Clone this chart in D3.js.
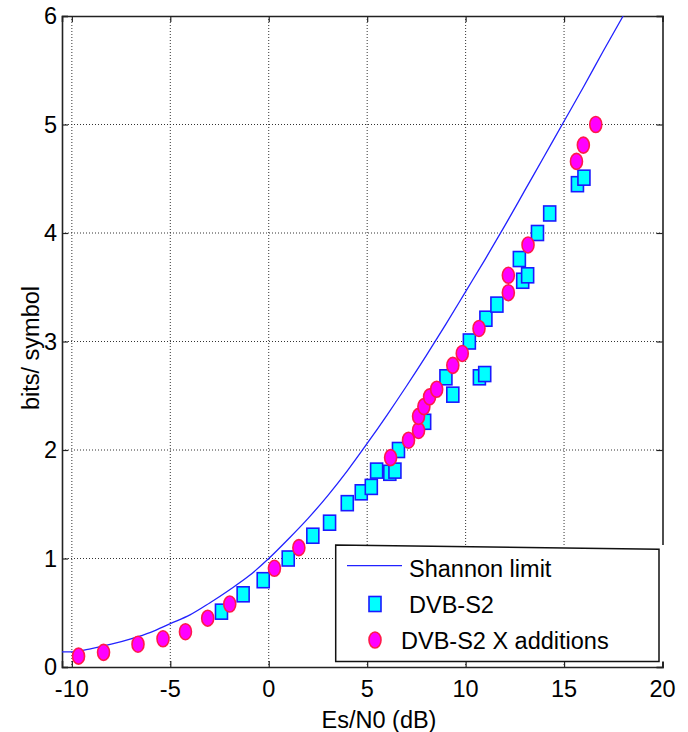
<!DOCTYPE html>
<html>
<head>
<meta charset="utf-8">
<script src="https://cdn.jsdelivr.net/npm/d3@7"></script>
<style>
  body { margin: 0; background: #fff; }
  svg { display: block; font-family: "Liberation Sans", Arial, sans-serif; }
</style>
</head>
<body>
<svg id="chart" width="688" height="732"></svg>
<script>
// Shannon limit (Es/N0 in dB, bits/symbol)
var shannonX = [-10.5, -10, -9, -8, -7, -6, -5, -4, -3, -2, -1, 0, 1, 2, 3, 4, 5, 6, 7, 8, 9, 10, 11, 12, 13, 14, 15, 16, 17, 18];
var shannonY = [0.14, 0.14, 0.17, 0.21, 0.26, 0.32, 0.40, 0.48, 0.59, 0.71, 0.84, 1.00, 1.18, 1.37, 1.58, 1.81, 2.06, 2.32, 2.59, 2.87, 3.16, 3.46, 3.76, 4.07, 4.39, 4.71, 5.03, 5.35, 5.68, 6.00];

// DVB-S2 modcods
var s2X = [-2.40, -1.30, -0.28, 0.99, 2.24, 3.09, 3.99, 4.70, 5.21, 5.48, 6.15, 6.41, 6.59, 7.92, 9.00, 9.35, 10.19, 10.70, 10.97, 11.03, 11.59, 12.73, 12.90, 13.15, 13.65, 14.27, 15.68, 16.01];
var s2Y = [0.51, 0.67, 0.80, 1.00, 1.21, 1.33, 1.51, 1.61, 1.66, 1.81, 1.79, 1.81, 2.00, 2.26, 2.67, 2.51, 3.00, 2.67, 2.70, 3.21, 3.34, 3.76, 3.56, 3.61, 4.00, 4.18, 4.45, 4.51];

// DVB-S2X additions
var s2xX = [-9.66, -8.39, -6.64, -5.37, -4.23, -3.10, -1.98, 0.29, 1.53, 6.19, 7.10, 7.61, 7.61, 7.88, 8.17, 8.53, 9.35, 9.83, 10.68, 12.17, 12.17, 13.17, 15.63, 15.98, 16.61];
var s2xY = [0.10, 0.135, 0.21, 0.26, 0.325, 0.45, 0.58, 0.91, 1.10, 1.93, 2.09, 2.18, 2.31, 2.40, 2.49, 2.56, 2.78, 2.89, 3.12, 3.45, 3.61, 3.89, 4.66, 4.81, 5.00];

var xTicks = [-10, -5, 0, 5, 10, 15, 20];
var yTicks = [0, 1, 2, 3, 4, 5, 6];

var svg = d3.select("#chart");
var pl = 62, pr = 662.5, pt = 16, pb = 667;
var fs = 23.5;

var x = d3.scaleLinear().domain([-10.5, 20]).range([pl, pr]);
var y = d3.scaleLinear().domain([0, 6]).range([pb, pt]);

// grid
var grid = svg.append("g").attr("stroke", "#333").attr("stroke-width", 1).attr("stroke-dasharray", "1,2");
grid.selectAll("line.vx").data(xTicks.filter(function(d) { return d < 20; }))
  .enter().append("line")
    .attr("x1", function(d) { return x(d); }).attr("x2", function(d) { return x(d); })
    .attr("y1", pt).attr("y2", pb);
grid.selectAll("line.hy").data(yTicks.filter(function(d) { return d > 0 && d < 6; }))
  .enter().append("line")
    .attr("x1", pl).attr("x2", pr)
    .attr("y1", function(d) { return y(d); }).attr("y2", function(d) { return y(d); });

// axes (inward ticks, box on all sides)
var tickLen = 6;
svg.append("g").attr("transform", "translate(0," + pb + ")")
  .call(d3.axisTop(x).tickValues(xTicks).tickSize(tickLen).tickFormat(""));
svg.append("g").attr("transform", "translate(0," + pt + ")")
  .call(d3.axisBottom(x).tickValues(xTicks).tickSize(tickLen).tickFormat(""));
svg.append("g").attr("transform", "translate(" + pl + ",0)")
  .call(d3.axisRight(y).tickValues(yTicks).tickSize(tickLen).tickFormat(""));
svg.append("g").attr("transform", "translate(" + pr + ",0)")
  .call(d3.axisLeft(y).tickValues(yTicks).tickSize(tickLen).tickFormat(""));
svg.selectAll(".domain").attr("stroke", "#222").attr("stroke-width", 1.6);
svg.selectAll(".tick line").attr("stroke", "#222").attr("stroke-width", 1.2);

// tick labels
svg.append("g").selectAll("text").data(xTicks).enter().append("text")
  .attr("x", function(d) { return x(d); })
  .attr("y", 697)
  .attr("text-anchor", "middle")
  .attr("font-size", fs)
  .text(function(d) { return d; });
svg.append("g").selectAll("text").data(yTicks).enter().append("text")
  .attr("x", 57)
  .attr("y", function(d) { return y(d) + 8; })
  .attr("text-anchor", "end")
  .attr("font-size", fs)
  .text(function(d) { return d; });

// axis titles
svg.append("text")
  .attr("x", 379).attr("y", 728)
  .attr("text-anchor", "middle").attr("font-size", fs)
  .text("Es/N0 (dB)");
svg.append("text")
  .attr("transform", "translate(39,348) rotate(-90)")
  .attr("text-anchor", "middle").attr("font-size", fs)
  .text("bits/ symbol");

// clip
svg.append("clipPath").attr("id", "plotclip")
  .append("rect").attr("x", pl).attr("y", pt).attr("width", pr - pl).attr("height", pb - pt);

// Shannon curve
var line = d3.line()
  .curve(d3.curveMonotoneX)
  .x(function(d) { return x(d[0]); })
  .y(function(d) { return y(d[1]); });
svg.append("path")
  .datum(d3.zip(shannonX, shannonY))
  .attr("clip-path", "url(#plotclip)")
  .attr("fill", "none")
  .attr("stroke", "#2222ff")
  .attr("stroke-width", 1.3)
  .attr("d", line);

// DVB-S2 squares
var sqW = 12, sqH = 15;
svg.append("g").selectAll("rect").data(d3.zip(s2X, s2Y)).enter().append("rect")
  .attr("x", function(d) { return x(d[0]) - sqW / 2; })
  .attr("y", function(d) { return y(d[1]) - sqH / 2; })
  .attr("width", sqW).attr("height", sqH)
  .attr("fill", "#00ffff")
  .attr("stroke", "#1a1aff")
  .attr("stroke-width", 1.6);

// DVB-S2X circles
var erx = 6, ery = 8;
svg.append("g").selectAll("ellipse").data(d3.zip(s2xX, s2xY)).enter().append("ellipse")
  .attr("cx", function(d) { return x(d[0]); })
  .attr("cy", function(d) { return y(d[1]); })
  .attr("rx", erx).attr("ry", ery)
  .attr("fill", "#ff00ff")
  .attr("stroke", "#ff1a4a")
  .attr("stroke-width", 1.6);

// legend
var lg = svg.append("g");
lg.append("path")
  .attr("d", "M335.7,545 L666,545 L666,661.5 L335.7,661.5 Z")
  .attr("fill", "#fff").attr("stroke", "none");
lg.append("path")
  .attr("d", "M335.7,545 L659,549.3 L659,661.5 L335.7,661.5 Z")
  .attr("fill", "none").attr("stroke", "#111").attr("stroke-width", 1.5);
lg.append("line")
  .attr("x1", 347).attr("x2", 402).attr("y1", 565.7).attr("y2", 565.7)
  .attr("stroke", "#2222ff").attr("stroke-width", 1.3);
lg.append("rect")
  .attr("x", 375 - sqW / 2).attr("y", 604 - sqH / 2).attr("width", sqW).attr("height", sqH)
  .attr("fill", "#00ffff").attr("stroke", "#1a1aff").attr("stroke-width", 1.6);
lg.append("ellipse")
  .attr("cx", 375).attr("cy", 640).attr("rx", erx).attr("ry", ery)
  .attr("fill", "#ff00ff").attr("stroke", "#ff1a4a").attr("stroke-width", 1.6);
lg.append("text").attr("x", 409).attr("y", 577).attr("font-size", fs).text("Shannon limit");
lg.append("text").attr("x", 409).attr("y", 613).attr("font-size", fs).text("DVB-S2");
lg.append("text").attr("x", 401).attr("y", 648.5).attr("font-size", fs).text("DVB-S2 X additions");
</script>
</body>
</html>
